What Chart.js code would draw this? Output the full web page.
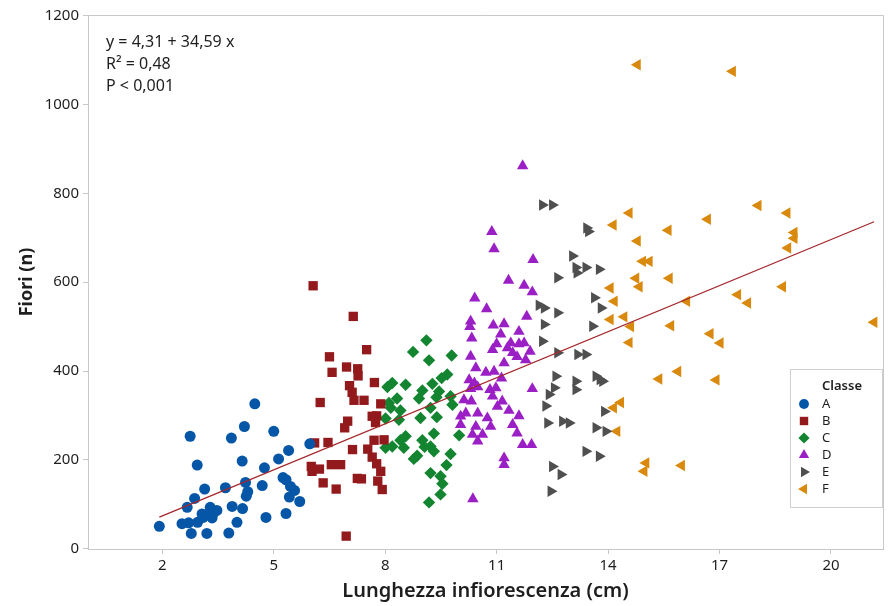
<!DOCTYPE html>
<html>
<head>
<meta charset="utf-8">
<script src="https://cdn.jsdelivr.net/npm/chart.js@4.4.1/dist/chart.umd.min.js"></script>
<style>
	html, body { margin: 0; padding: 0; background: #fff; }
	#wrap { width: 892px; height: 606px; }
</style>
</head>
<body>
<div id="wrap"><canvas id="chart" width="892" height="606"></canvas></div>
<script>

// Data
const classNames = [ "A", "B", "C", "D", "E", "F" ];

const classA_x = [ 1.92, 2.75, 2.94, 2.53, 2.71, 2.78, 2.67, 2.87, 3.14, 2.95, 3.07, 3.29, 3.34, 3.47, 3.20, 3.20, 3.70, 3.86, 3.79, 3.88, 4.01, 4.15, 4.16, 4.21, 4.24, 4.30, 4.26, 4.49, 4.69, 4.75, 4.79, 5.00, 5.13, 5.40, 5.25, 5.33, 5.45, 5.56, 5.42, 5.70, 5.33, 5.97, 3.10, 3.38 ];
const classA_y = [ 50, 253, 188, 56, 58, 34, 93, 113, 134, 59, 78, 93, 69, 86, 34, 77, 137, 249, 35, 95, 59, 197, 90, 275, 149, 128, 118, 326, 142, 182, 70, 264, 202, 221, 160, 155, 140, 131, 116, 106, 79, 236, 70, 80 ];

const classB_x = [ 6.06, 7.14, 7.50, 6.50, 6.57, 6.96, 7.26, 7.27, 7.71, 7.04, 7.11, 7.16, 7.43, 6.25, 7.88, 7.65, 7.77, 7.74, 6.99, 6.91, 7.70, 7.97, 6.10, 6.46, 7.12, 7.53, 7.65, 7.77, 7.88, 6.01, 6.03, 6.23, 6.55, 6.80, 6.33, 6.68, 7.25, 7.36, 7.80, 7.92, 6.95 ];
const classB_y = [ 592, 523, 448, 432, 397, 409, 405, 389, 374, 367, 352, 334, 334, 329, 326, 298, 299, 284, 287, 272, 244, 245, 238, 239, 223, 224, 206, 191, 174, 185, 174, 179, 189, 189, 148, 134, 158, 157, 152, 133, 28 ];

const classC_x = [ 9.11, 8.75, 9.18, 9.79, 8.06, 8.19, 8.55, 9.27, 9.52, 9.67, 9.00, 8.91, 9.45, 9.38, 8.32, 8.10, 8.15, 8.41, 8.01, 8.37, 9.22, 9.76, 9.81, 8.95, 9.39, 9.99, 9.31, 8.55, 8.41, 8.19, 8.01, 8.50, 9.00, 9.06, 9.22, 9.31, 8.86, 8.77, 9.76, 9.65, 9.22, 9.49, 9.54, 9.49, 9.18 ];
const classC_y = [ 469, 443, 424, 435, 364, 373, 369, 371, 384, 392, 356, 338, 354, 341, 338, 328, 317, 311, 293, 290, 317, 343, 324, 294, 296, 255, 259, 253, 244, 230, 227, 227, 244, 229, 230, 219, 209, 202, 213, 188, 170, 163, 146, 122, 104 ];

const classD_x = [ 11.70, 10.87, 10.93, 11.98, 11.32, 11.74, 11.96, 10.41, 10.73, 11.81, 10.30, 10.28, 10.91, 11.20, 11.60, 10.33, 11.11, 11.00, 11.38, 11.60, 11.74, 10.89, 11.29, 11.43, 11.90, 10.30, 11.55, 11.78, 11.20, 10.44, 10.71, 10.93, 11.13, 10.26, 10.40, 10.49, 10.30, 10.82, 10.98, 11.96, 10.89, 10.12, 10.32, 11.15, 11.02, 11.33, 10.17, 10.49, 11.60, 10.03, 10.75, 10.03, 11.43, 10.44, 10.84, 10.35, 10.62, 11.55, 10.49, 11.70, 11.94, 11.20, 11.20, 10.36 ];
const classD_y = [ 862, 714, 675, 651, 604, 593, 578, 564, 540, 523, 512, 500, 503, 506, 489, 474, 483, 461, 463, 461, 463, 448, 452, 441, 444, 433, 432, 425, 418, 407, 397, 399, 384, 380, 373, 364, 360, 358, 362, 360, 343, 335, 332, 332, 320, 311, 305, 305, 299, 298, 294, 279, 279, 275, 275, 257, 257, 260, 242, 234, 234, 204, 189, 112 ];

const classE_x = [ 12.23, 12.50, 13.42, 13.47, 13.04, 13.13, 13.40, 13.76, 13.16, 12.64, 12.14, 12.28, 12.64, 13.63, 13.81, 13.58, 12.28, 12.23, 12.64, 13.18, 13.40, 12.59, 13.13, 13.67, 13.85, 13.78, 12.55, 13.13, 12.41, 12.32, 13.90, 12.37, 12.77, 12.95, 13.67, 13.94, 13.40, 13.76, 12.50, 12.73, 12.46 ];
const classE_y = [ 774, 774, 722, 714, 659, 633, 633, 629, 621, 610, 548, 542, 531, 565, 542, 501, 505, 467, 441, 437, 437, 388, 377, 388, 377, 381, 362, 358, 347, 321, 309, 283, 287, 283, 272, 264, 219, 208, 185, 167, 129 ];

const classF_x = [ 14.79, 17.35, 18.04, 18.82, 14.57, 14.14, 16.68, 15.62, 14.79, 19.01, 19.01, 18.84, 14.93, 15.11, 15.65, 14.75, 14.84, 18.70, 14.06, 14.17, 16.12, 17.49, 17.76, 14.06, 14.43, 14.61, 15.69, 21.16, 14.57, 16.75, 17.02, 15.37, 15.88, 16.91, 14.34, 14.15, 14.24, 15.02, 14.97, 15.98 ];
const classF_y = [ 1090, 1075, 773, 756, 756, 729, 742, 717, 693, 712, 699, 677, 647, 647, 609, 609, 590, 590, 587, 557, 557, 572, 553, 516, 522, 500, 502, 510, 464, 484, 463, 382, 399, 380, 329, 317, 264, 193, 174, 187 ];

// Regression line (from the equation printed on the chart)
const fitIntercept = 4.31;
const fitSlope = 34.59;
const fitRangeX = [ 1.92, 21.16 ];
const fitLabels = [ "y = 4,31 + 34,59 x", "R² = 0,48", "P < 0,001" ];

// Axis ticks
const xTicks = [ 2, 5, 8, 11, 14, 17, 20 ];
const yTicks = [ 0, 200, 400, 600, 800, 1000, 1200 ];

const xTitle = "Lunghezza infiorescenza (cm)";
const yTitle = "Fiori (n)";
const legendTitle = "Classe";

const FONT = "'Noto Sans', 'Open Sans', sans-serif";

function toPoints ( xs, ys ) {
	return xs.map( ( x, i ) => ( { x: x, y: ys[ i ] } ) );
}

// marker style per class
const classStyles = [
	{ color: "#0656a8", pointStyle: "circle", radius: 5.5, rotation: 0 },
	{ color: "#931a1c", pointStyle: "rect", radius: 6.6, rotation: 0 },
	{ color: "#138530", pointStyle: "rectRot", radius: 6.2, rotation: 0 },
	{ color: "#9a1fc4", pointStyle: "triangle", radius: 6.6, rotation: 0 },
	{ color: "#4f4f4f", pointStyle: "triangle", radius: 6.6, rotation: 90 },
	{ color: "#d98a0e", pointStyle: "triangle", radius: 6.6, rotation: -90 }
];

const classData = [
	toPoints( classA_x, classA_y ),
	toPoints( classB_x, classB_y ),
	toPoints( classC_x, classC_y ),
	toPoints( classD_x, classD_y ),
	toPoints( classE_x, classE_y ),
	toPoints( classF_x, classF_y )
];

let datasets = classNames.map( function ( name, i ) {
	let s = classStyles[ i ];
	return {
		type: "scatter",
		label: name,
		data: classData[ i ],
		backgroundColor: s.color,
		borderColor: s.color,
		pointStyle: s.pointStyle,
		pointRadius: s.radius,
		pointRotation: s.rotation,
		pointBorderWidth: 0,
		pointHoverRadius: s.radius,
		order: 2
	};
} );

datasets.push( {
	type: "line",
	label: "fit",
	data: fitRangeX.map( x => ( { x: x, y: fitIntercept + fitSlope * x } ) ),
	borderColor: "#a4282c",
	borderWidth: 1.3,
	pointRadius: 0,
	fill: false,
	order: 1
} );

/*
 | Frame, equation text and the "Classe" legend box
 */
const overlayPlugin = {
	id: "overlay",
	afterDraw ( chart ) {
		let ctx = chart.ctx;
		let area = chart.chartArea;
		ctx.save();

		// top and right edges of the data region
		ctx.strokeStyle = "#c8c8c8";
		ctx.lineWidth = 1;
		ctx.beginPath();
		ctx.moveTo( area.left, area.top + 0.5 );
		ctx.lineTo( area.right + 0.5, area.top + 0.5 );
		ctx.lineTo( area.right + 0.5, area.bottom );
		ctx.stroke();

		// equation text
		ctx.fillStyle = "#1e1e1e";
		ctx.font = "16px " + FONT;
		ctx.textBaseline = "middle";
		ctx.textAlign = "left";
		fitLabels.forEach( ( t, i ) => ctx.fillText( t, area.left + 18, area.top + 27 + i * 22 ) );

		// legend box
		let bx = 790, by = 369, bw = 92, bh = 138;
		ctx.fillStyle = "#ffffff";
		ctx.fillRect( bx, by, bw, bh );
		ctx.strokeStyle = "#d0d0d0";
		ctx.strokeRect( bx + 0.5, by + 0.5, bw, bh );

		ctx.fillStyle = "#1e1e1e";
		ctx.font = "600 13px " + FONT;
		ctx.fillText( legendTitle, 822, 386 );

		ctx.font = "13px " + FONT;
		classNames.forEach( function ( name, i ) {
			let s = classStyles[ i ];
			let yy = 404 + i * 17;
			ctx.fillStyle = s.color;
			ctx.strokeStyle = s.color;
			Chart.helpers.drawPoint( ctx, {
				pointStyle: s.pointStyle,
				radius: s.radius * 0.9,
				rotation: s.rotation,
				borderWidth: 0
			}, 804, yy );
			ctx.fillStyle = "#1e1e1e";
			ctx.fillText( name, 822, yy );
		} );

		ctx.restore();
	}
};

let chartConfig = {
	data: { datasets: datasets },
	options: {
		responsive: false,
		animation: false,
		layout: { padding: { left: 0, right: 9, top: 15, bottom: 0 } },
		plugins: {
			legend: { display: false },
			tooltip: { enabled: false }
		},
		scales: {
			x: {
				type: "linear",
				min: 0,
				max: 21.4,
				afterBuildTicks: function ( scale ) {
					scale.ticks = xTicks.map( v => ( { value: v } ) );
				},
				afterFit: function ( scale ) {
					scale.height = 57;
				},
				border: { color: "#c8c8c8", width: 1 },
				grid: {
					drawOnChartArea: false,
					drawTicks: true,
					tickLength: 5,
					color: "#c8c8c8"
				},
				ticks: {
					color: "#1e1e1e",
					padding: 3,
					maxRotation: 0,
					font: { family: FONT, size: 15 },
					callback: value => String( value )
				},
				title: {
					display: true,
					text: xTitle,
					color: "#1e1e1e",
					padding: { top: 0, bottom: 3 },
					font: { family: FONT, size: 20, weight: "600" }
				}
			},
			y: {
				type: "linear",
				min: -1,
				max: 1202,
				afterBuildTicks: function ( scale ) {
					scale.ticks = yTicks.map( v => ( { value: v } ) );
				},
				afterFit: function ( scale ) {
					scale.width = 88;
				},
				border: { color: "#c8c8c8", width: 1 },
				grid: {
					drawOnChartArea: false,
					drawTicks: true,
					tickLength: 5,
					color: "#c8c8c8"
				},
				ticks: {
					color: "#1e1e1e",
					padding: 4,
					font: { family: FONT, size: 15 },
					callback: value => String( value )
				},
				title: {
					display: true,
					text: yTitle,
					color: "#1e1e1e",
					padding: { top: 16, bottom: 0 },
					font: { family: FONT, size: 18, weight: "bold" }
				}
			}
		}
	},
	plugins: [ overlayPlugin ]
};

let chart = new Chart( document.getElementById( "chart" ), chartConfig );

</script>
</body>
</html>
